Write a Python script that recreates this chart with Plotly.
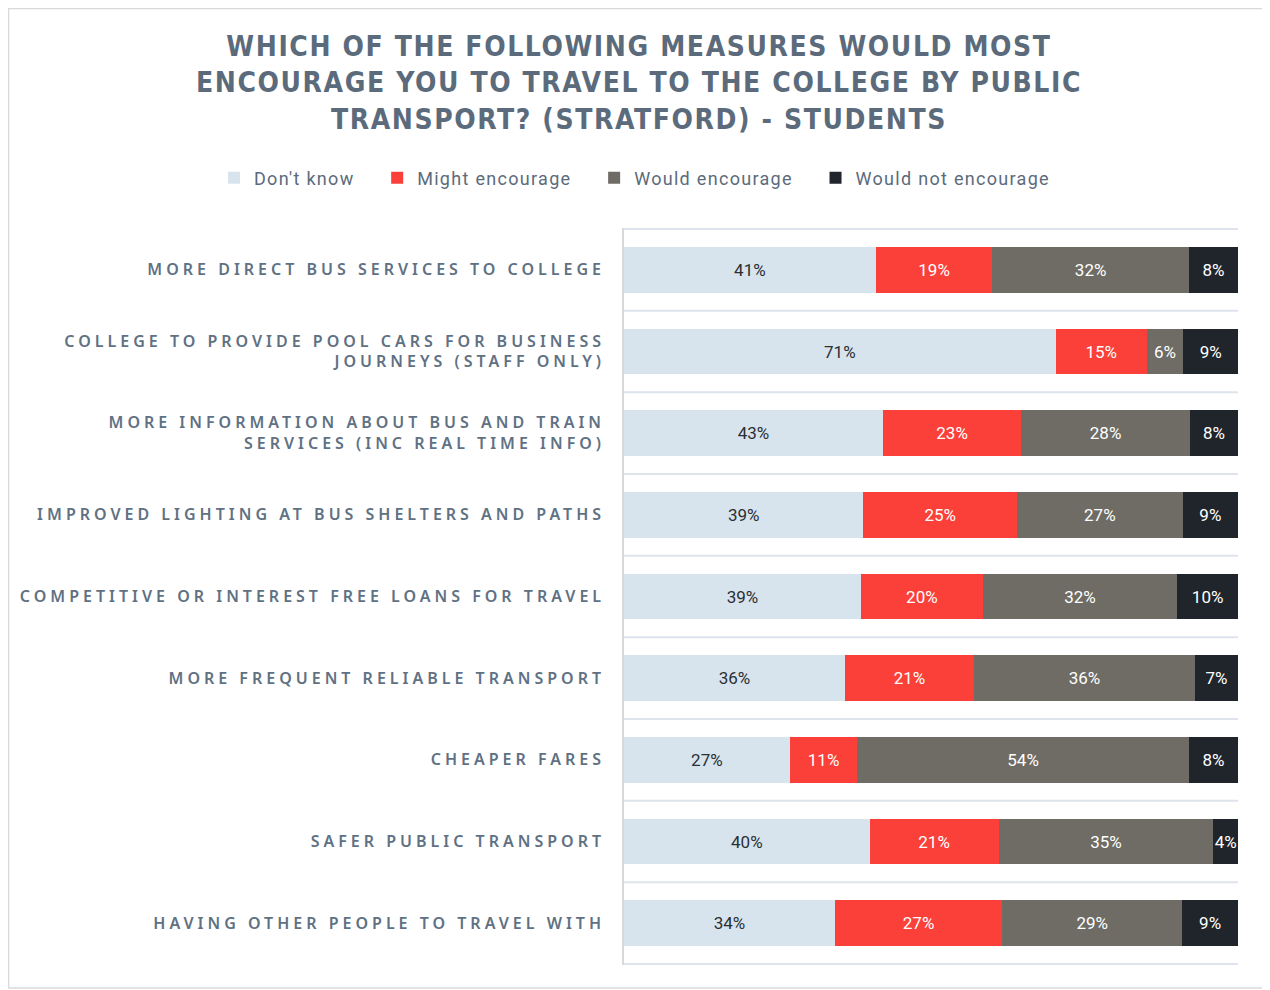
import plotly.graph_objects as go

categories = [
    "MORE DIRECT BUS SERVICES TO COLLEGE",
    "COLLEGE TO PROVIDE POOL CARS FOR BUSINESS<br>JOURNEYS (STAFF ONLY)",
    "MORE INFORMATION ABOUT BUS AND TRAIN<br>SERVICES (INC REAL TIME INFO)",
    "IMPROVED LIGHTING AT BUS SHELTERS AND PATHS",
    "COMPETITIVE OR INTEREST FREE LOANS FOR TRAVEL",
    "MORE FREQUENT RELIABLE TRANSPORT",
    "CHEAPER FARES",
    "SAFER PUBLIC TRANSPORT",
    "HAVING OTHER PEOPLE TO TRAVEL WITH",
]
dont_know = [41, 71, 43, 39, 39, 36, 27, 40, 34]
might_encourage = [19, 15, 23, 25, 20, 21, 11, 21, 27]
would_encourage = [32, 6, 28, 27, 32, 36, 54, 35, 29]
would_not_encourage = [8, 9, 8, 9, 10, 7, 8, 4, 9]

series = [
    ("Don't know", dont_know, "#D7E4EE", "#2B2F33"),
    ("Might encourage", might_encourage, "#FA4038", "#FFFFFF"),
    ("Would encourage", would_encourage, "#6E6C64", "#FFFFFF"),
    ("Would not encourage", would_not_encourage, "#1F252B", "#FFFFFF"),
]

TEXT_GRAY = "#5B6B7C"
LABEL_FONT = "Roboto, sans-serif"


def spaced(s, px):
    lines = s.split("<br>")
    return "<br>".join(f'<span style="letter-spacing:{px}px">{ln}</span>' for ln in lines)


def legend_name(s, px, trail):
    # same text; the last letter carries extra trailing spacing to widen the gap between entries
    return (f'<span style="letter-spacing:{px}px">{s[:-1]}</span>'
            f'<span style="letter-spacing:{trail}px">{s[-1]}</span>')


fig = go.Figure()
for name, vals, color, tcolor in series:
    fig.add_trace(go.Bar(
        y=categories, x=vals, name=legend_name(name, 1.3, 19), orientation="h",
        marker=dict(color=color, line=dict(width=0)),
        text=[f"{v}%" for v in vals], textposition="inside",
        insidetextanchor="middle", textangle=0,
        textfont=dict(family=LABEL_FONT, size=17, color=tcolor),
        width=0.56,
    ))

W, H = 1262, 982
L, R, T, B = 616, 32, 220, 25
pw, ph = W - L - R, H - T - B

n = len(categories)
shapes = []
for k in range(n + 1):
    shapes.append(dict(type="line", xref="paper", yref="y", x0=0, x1=1,
                       y0=k - 0.5, y1=k - 0.5,
                       line=dict(color="#DDE4EB", width=2), layer="below"))
# outer chart frame
shapes.append(dict(type="rect", xref="paper", yref="paper",
                   x0=(0.5 - L) / pw, x1=(W - 1 - L) / pw,
                   y0=-(B - 2) / ph, y1=(ph + T - 0.5) / ph,
                   line=dict(color="#D9D9D9", width=1.5), layer="below"))

fig.update_layout(
    width=W, height=H,
    barmode="stack", barnorm="percent",
    paper_bgcolor="white", plot_bgcolor="white",
    margin=dict(l=L, r=R, t=T, b=B),
    title=dict(
        text=spaced("WHICH OF THE FOLLOWING MEASURES WOULD MOST<br>ENCOURAGE YOU TO TRAVEL TO THE COLLEGE BY PUBLIC<br>TRANSPORT? (STRATFORD) - STUDENTS", 1.6),
        x=0.5, xanchor="center", y=1 - 48 / H, yanchor="top",
        font=dict(family="DejaVu Sans Condensed, sans-serif", size=28, color=TEXT_GRAY, weight="bold"),
    ),
    legend=dict(
        orientation="h", xref="paper", yref="paper",
        x=(206 - L) / pw, xanchor="left", y=(ph + T - 170) / ph, yanchor="middle",
        font=dict(family=LABEL_FONT, size=18, color=TEXT_GRAY),
        traceorder="normal", itemwidth=30,
    ),
    uniformtext=dict(minsize=16, mode="show"),
    xaxis=dict(range=[0, 100], showticklabels=False, showgrid=False,
               zeroline=False, fixedrange=True),
    yaxis=dict(autorange="reversed", showline=True, linecolor="#D9D9D9",
               linewidth=1.5, ticks="", ticklabelstandoff=14,
               tickfont=dict(family="Noto Sans, sans-serif", size=16, color="#607183", weight=600),
               tickmode="array", tickvals=categories,
               ticktext=[spaced(c, 4.0) for c in categories],
               showgrid=False),
    shapes=shapes,
    showlegend=True,
)

fig.write_html("out.html")
